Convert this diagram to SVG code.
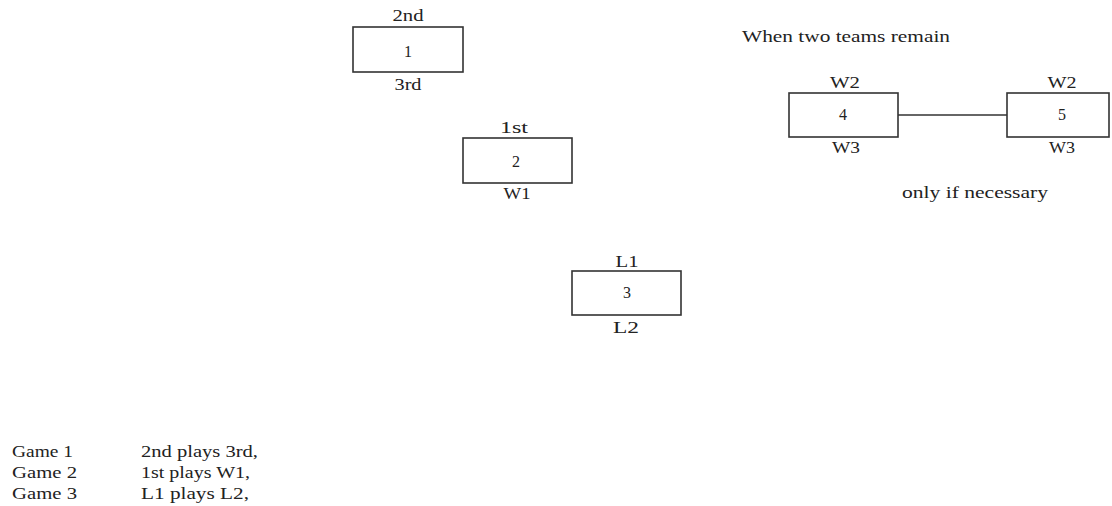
<svg xmlns="http://www.w3.org/2000/svg" width="1112" height="506" viewBox="0 0 1112 506">
<style>
text{font-family:"Liberation Serif","DejaVu Serif",serif;font-size:16px;fill:#222}
.c{text-anchor:middle}
.box{fill:#fff;stroke:#333;stroke-width:1.6}
.ln{stroke:#333;stroke-width:1.4;fill:none}
</style>
<rect width="1112" height="506" fill="#fff"/>
<g id="node1"><rect class="box" x="353" y="27" width="110" height="45"/><text class="c" x="408" y="21" textLength="31" lengthAdjust="spacingAndGlyphs">2nd</text><text class="c" x="408" y="57">1</text><text class="c" x="408" y="90" textLength="27" lengthAdjust="spacingAndGlyphs">3rd</text></g>
<g id="node2"><rect class="box" x="463" y="138" width="109" height="45"/><text class="c" x="514" y="133" textLength="28" lengthAdjust="spacingAndGlyphs">1st</text><text class="c" x="516" y="167">2</text><text class="c" x="517" y="199" textLength="27" lengthAdjust="spacingAndGlyphs">W1</text></g>
<g id="node3"><rect class="box" x="572" y="271" width="109" height="44"/><text class="c" x="627" y="267" textLength="23" lengthAdjust="spacingAndGlyphs">L1</text><text class="c" x="627" y="298">3</text><text class="c" x="626" y="333" textLength="26" lengthAdjust="spacingAndGlyphs">L2</text></g>
<g id="node4"><rect class="box" x="789" y="93" width="109" height="44"/><text class="c" x="845" y="88" textLength="30" lengthAdjust="spacingAndGlyphs">W2</text><text class="c" x="843" y="120">4</text><text class="c" x="846" y="153" textLength="28" lengthAdjust="spacingAndGlyphs">W3</text></g>
<g id="node5"><rect class="box" x="1007" y="93" width="102" height="44"/><text class="c" x="1062" y="88" textLength="29" lengthAdjust="spacingAndGlyphs">W2</text><text class="c" x="1062" y="120">5</text><text class="c" x="1062" y="153" textLength="26" lengthAdjust="spacingAndGlyphs">W3</text></g>
<g id="connectors"><line class="ln" x1="898" y1="115" x2="1007" y2="115"/></g>
<g id="labels">
<text x="742" y="42" textLength="208" lengthAdjust="spacingAndGlyphs">When two teams remain</text>
<text x="902" y="198" textLength="146" lengthAdjust="spacingAndGlyphs">only if necessary</text>
<text x="12" y="457" textLength="61" lengthAdjust="spacingAndGlyphs">Game 1</text><text x="141" y="457" textLength="117" lengthAdjust="spacingAndGlyphs">2nd plays 3rd,</text>
<text x="12" y="478" textLength="65" lengthAdjust="spacingAndGlyphs">Game 2</text><text x="141" y="478" textLength="109" lengthAdjust="spacingAndGlyphs">1st plays W1,</text>
<text x="12" y="499" textLength="65" lengthAdjust="spacingAndGlyphs">Game 3</text><text x="141" y="499" textLength="108" lengthAdjust="spacingAndGlyphs">L1 plays L2,</text>
</g>
</svg>
